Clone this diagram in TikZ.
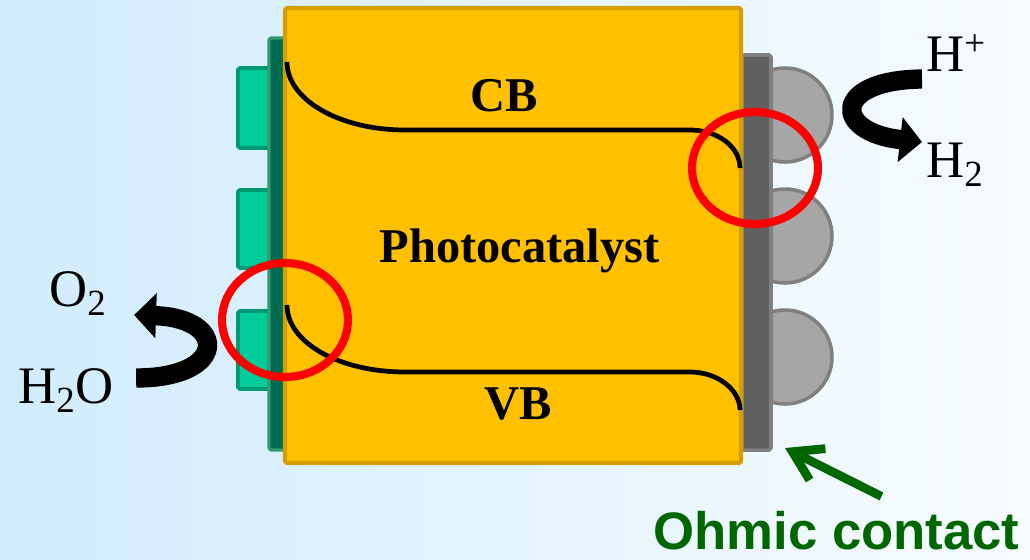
\documentclass[tikz,border=0pt]{standalone}
\usepackage{fontspec}
\setmainfont{Liberation Serif}
\newfontfamily\labelsans{Liberation Sans}
\usetikzlibrary{arrows.meta}

\definecolor{skyblue}{RGB}{206,235,253}
\definecolor{catfill}{RGB}{255,192,0}
\definecolor{catline}{RGB}{212,160,0}
\definecolor{tabfill}{RGB}{0,204,153}
\definecolor{tabline}{RGB}{0,153,115}
\definecolor{stripfill}{RGB}{0,107,80}
\definecolor{stripline}{RGB}{51,153,112}
\definecolor{metalfill}{RGB}{96,96,96}
\definecolor{metalline}{RGB}{128,128,128}
\definecolor{dotfill}{RGB}{166,166,166}
\definecolor{ohmgreen}{RGB}{0,102,0}

\pgfdeclarehorizontalshading{bgfade}{100bp}{color(0bp)=(skyblue); color(22bp)=(skyblue); color(85bp)=(white); color(100bp)=(white)}

\begin{document}
\begin{tikzpicture}[x=0.2mm, y=-0.2mm, line join=round,
        tab/.style={fill=tabfill, draw=tabline, line width=2.2pt, rounded corners=1pt},
        dot/.style={fill=dotfill, draw=metalline, line width=2pt},
        band/.style={black, line width=2.7pt},
        ring/.style={red, line width=4.6pt},
        bandlabel/.style={font=\fontsize{27.6}{30}\selectfont\bfseries, inner sep=0pt},
        chem/.style={font=\fontsize{30}{34}\selectfont, inner sep=0pt},
        swoop/.style={line width=11pt, -{Triangle[length=12.5pt, width=25pt]}}]
        % Background
        \useasboundingbox (0,0) rectangle (1030,559);
        \shade[shading=bgfade] (0,0) rectangle (1030,559);

        % Right side (metal contact)
        \foreach \y in {115,236,357}
            \draw[dot] (785,\y) circle[radius=47];
        \draw[fill=metalfill, draw=metalline, line width=2pt, rounded corners=1pt]
            (742,55) rectangle (771,450) coordinate (metal corner);

        % Left side (cocatalyst)
        \foreach \ya/\yb in {68/148, 190/268, 311/389}
            \draw[tab] (238,\ya) rectangle (270,\yb);
        \draw[fill=stripfill, draw=stripline, line width=1.8pt, rounded corners=1pt] (269,38) rectangle (285,450);

        % Photocatalyst body
        \draw[fill=catfill, draw=catline, line width=2.3pt, rounded corners=1pt] (285,8) rectangle (741,463);

        % Band edges
        \draw[band] (287,62) .. controls (287,100) and (340,130) .. (405,130) -- (690,130)
            .. controls (718,130) and (740,147) .. (740,168);
        \draw[band] (287,305) .. controls (287,343) and (340,372) .. (405,372) -- (690,372)
            .. controls (718,372) and (740,390) .. (740,410);

        \node[bandlabel, anchor=base] (cb) at (504,111) {CB};
        \node[bandlabel, anchor=base] (cat) at (519.5,262) {Photocatalyst};
        \node[bandlabel, anchor=base] (vb) at (518.5,419) {VB};

        % Band bending at the junctions
        \draw[ring] (755,168) ellipse[x radius=63, y radius=56];
        \draw[ring] (285,320) ellipse[x radius=63, y radius=57];

        % Reactions
        \node[chem, anchor=base west] (hplus) at (926,71) {H\textsuperscript{+}};
        \node[chem, anchor=base west] (htwo) at (926,177) {H\textsubscript{2}};
        \node[chem, anchor=base west] (oxy) at (49,306) {O\textsubscript{2}};
        \node[chem, anchor=base west] (water) at (18,403) {H\textsubscript{2}O};

        \draw[swoop] ([shift={(-4,8)}]hplus.base west) .. controls (832,80) and (832,132)
            .. ([shift={(-4,-35)}]htwo.base west);
        \draw[swoop] ([shift={(22,-25)}]water.base east) .. controls (228,378) and (228,318)
            .. ([shift={(27,9)}]oxy.base east);

        % Ohmic contact label
        \node[font=\labelsans\fontsize{30}{34}\selectfont\bfseries, text=ohmgreen, inner sep=0pt, anchor=base]
            (ohmic) at (836.5,549) {Ohmic contact};
        \draw[ohmgreen, line width=5pt, -{Straight Barb[length=16pt, width=20pt]}]
            ([shift={(45,-14)}]ohmic.north) -- ([shift={(14,-2)}]metal corner);
\end{tikzpicture}
\end{document}
